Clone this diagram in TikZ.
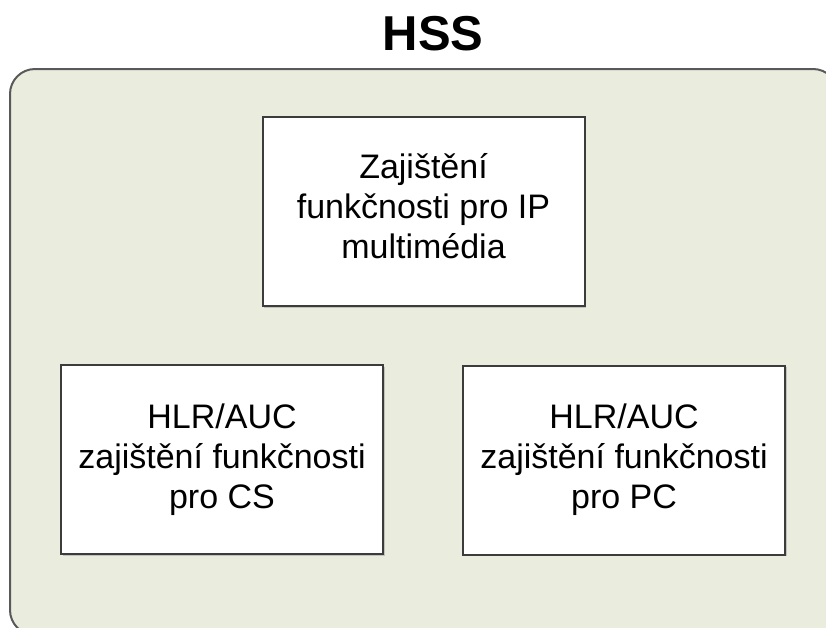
\documentclass[tikz,border=0pt]{standalone}
\usepackage{fontspec}
\setmainfont{Liberation Sans}
\usetikzlibrary{shadows}
\definecolor{panelfill}{HTML}{EAEDDD}
\definecolor{edgegray}{HTML}{3C3C3C}
% invisible depth that lifts a centred text block a little
\newcommand{\liftby}[1]{\rule[-#1]{0pt}{#1}}
\begin{document}
\begin{tikzpicture}[x=1pt,y=-1pt,
  panel/.style={draw=edgegray!85, line width=2pt, fill=panelfill, rounded corners=25pt},
  funcbox/.style={draw=edgegray, line width=2pt, fill=white, inner sep=0pt,
    minimum width=322pt, minimum height=189pt, align=center,
    font=\fontsize{34}{40}\selectfont,
    drop shadow={shadow xshift=1.5pt, shadow yshift=-1.5pt, fill=black!35, opacity=0.6}},
  title/.style={font=\bfseries\fontsize{49}{49}\selectfont, anchor=base, inner sep=0pt}]
  \useasboundingbox (0,0) rectangle (826,627);
  \clip (0,0) rectangle (826,627);
  % HSS container, running past the right and bottom edges
  \draw[panel] (10,69) rectangle (838,635);
  \node[title] (hss) at (433,50) {HSS};
  % functional blocks
  \node[funcbox] (ims) at (423.5,211.5) {Zajištění\\funkčnosti pro IP\\multimédia\liftby{12pt}};
  \node[funcbox] (cs) at (222,459.5) {HLR/AUC\\zajištění funkčnosti\\pro CS};
  \node[funcbox] (pc) at (624,460) {HLR/AUC\\zajištění funkčnosti\\pro PC};
\end{tikzpicture}
\end{document}
